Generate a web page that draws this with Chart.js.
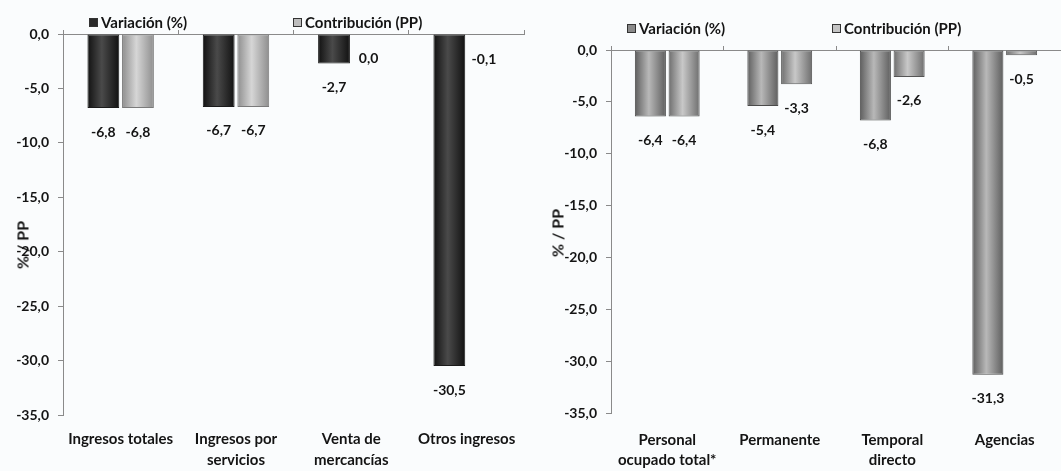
<!DOCTYPE html>
<html>
<head>
<meta charset="utf-8">
<script src="https://cdn.jsdelivr.net/npm/chart.js@4/dist/chart.umd.min.js"></script>
<style>
  html, body { margin: 0; padding: 0; background: #fafcfd; }
  #wrap { position: relative; width: 1061px; height: 471px; overflow: hidden; font-family: Lato, "Open Sans", sans-serif; }
  .pane { position: absolute; top: 0; height: 471px; }
  #paneL { left: 0; width: 530px; }
  #paneR { left: 530px; width: 531px; }
  .leg { position: absolute; font-weight: 700; font-size: 15px; color: #141414; white-space: nowrap; line-height: 16px; }
  .mk { display: inline-block; width: 9px; height: 9px; margin-right: 3px; vertical-align: 1px; border: 1px solid #333; box-sizing: border-box; }
  .ytitle { position: absolute; font-weight: 700; font-size: 16px; color: #141414; white-space: nowrap; transform: translate(-50%, -50%) rotate(-90deg); }
</style>
</head>
<body>
<div id="wrap">
  <div class="pane" id="paneL"><canvas id="cL" width="530" height="471"></canvas></div>
  <div class="pane" id="paneR"><canvas id="cR" width="531" height="471"></canvas></div>
  <div class="leg" style="left:89px; top:14px;"><span class="mk" style="background:#2a2a2a;"></span>Variación (%)</div>
  <div class="leg" style="left:293px; top:14px;"><span class="mk" style="background:#bdbdbd;"></span>Contribución (PP)</div>
  <div class="leg" style="left:627px; top:20px;"><span class="mk" style="background:#8a8a8a;"></span>Variación (%)</div>
  <div class="leg" style="left:832px; top:20px;"><span class="mk" style="background:#c4c4c4;"></span>Contribución (PP)</div>
  <div class="ytitle" style="left:22px; top:245px;">% / PP</div>
  <div class="ytitle" style="left:557px; top:233px;">% / PP</div>
</div>
<script>
// ---- data ----
const categoriesIngresos = [["Ingresos totales"], ["Ingresos por", "servicios"], ["Venta de", "mercancías"], ["Otros ingresos"]];
const variacionIngresos = [-6.8, -6.7, -2.7, -30.5];
const contribucionIngresos = [-6.8, -6.7, 0.0, -0.1];

const categoriesPersonal = [["Personal", "ocupado total*"], ["Permanente"], ["Temporal", "directo"], ["Agencias"]];
const variacionPersonal = [-6.4, -5.4, -6.8, -31.3];
const contribucionPersonal = [-6.4, -3.3, -2.6, -0.5];

const yTicksMin = -35;
const yTicksMax = 0;
const yTickStep = 5;

const seriesNames = ["Variación (%)", "Contribución (PP)"];

// ---- helpers ----
const fmt = v => v.toFixed(1).replace('.', ',');
const CAT_PCT = 0.6, BAR_PCT = 0.92;
const FAM = 'Lato, "Open Sans", sans-serif';

function cylinder(edge, mid) {
  return function (c) {
    const chart = c.chart;
    const xs = chart.scales.x;
    if (!xs || !chart.chartArea || c.dataIndex === undefined) return mid;
    const center = xs.getPixelForValue(c.dataIndex);
    const cat = (xs.right - xs.left) / xs.ticks.length;
    const slot = cat * CAT_PCT / 2;
    const bx = center + (c.datasetIndex - 0.5) * slot;
    const w = slot * BAR_PCT;
    const g = chart.ctx.createLinearGradient(bx - w / 2, 0, bx + w / 2, 0);
    g.addColorStop(0, edge);
    g.addColorStop(0.45, mid);
    g.addColorStop(1, edge);
    return g;
  };
}

const valueLabels = {
  id: 'valueLabels',
  afterDatasetsDraw(chart, args, opts) {
    const ctx = chart.ctx;
    ctx.save();
    ctx.font = '700 14px ' + FAM;
    ctx.fillStyle = '#141414';
    ctx.textAlign = 'center';
    ctx.textBaseline = 'middle';
    chart.data.datasets.forEach((ds, di) => {
      const meta = chart.getDatasetMeta(di);
      meta.data.forEach((el, i) => {
        ctx.fillText(fmt(ds.data[i]), el.x, el.y + opts.offset);
      });
    });
    ctx.restore();
  }
};

function makeChart(id, cats, v1, v2, colors, geo) {
  const tickFont = { family: FAM, weight: 700, size: 14 };
  const catFont = { family: FAM, weight: 700, size: 15, lineHeight: geo.lineH };
  return new Chart(document.getElementById(id), {
    type: 'bar',
    data: {
      labels: cats,
      datasets: [
        { label: seriesNames[0], data: v1, backgroundColor: cylinder(colors[0][0], colors[0][1]), borderColor: colors[0][2], borderWidth: 1, borderSkipped: false, categoryPercentage: CAT_PCT, barPercentage: BAR_PCT },
        { label: seriesNames[1], data: v2, backgroundColor: cylinder(colors[1][0], colors[1][1]), borderColor: colors[1][2], borderWidth: 1, borderSkipped: false, categoryPercentage: CAT_PCT, barPercentage: BAR_PCT }
      ]
    },
    options: {
      responsive: false,
      animation: false,
      events: [],
      layout: { padding: { top: geo.top, left: 0, right: geo.right, bottom: 0 } },
      plugins: { legend: { display: false }, tooltip: { enabled: false }, valueLabels: { offset: 24 } },
      scales: {
        x: {
          type: 'category',
          position: 'bottom',
          grid: { display: false, drawTicks: false },
          border: { display: false },
          ticks: { font: catFont, color: '#141414', maxRotation: 0, autoSkip: false, padding: geo.xPad },
          afterFit: s => { s.height = geo.h - geo.bottom; }
        },
        x2: {
          type: 'category',
          position: 'top',
          labels: cats,
          offset: true,
          grid: { display: true, drawOnChartArea: false, drawTicks: true, tickLength: 4, color: '#8a8a8a', offset: true },
          border: { display: true, color: '#8a8a8a', width: 1 },
          ticks: { display: false },
          afterFit: s => { s.height = 0; }
        },
        y: {
          min: yTicksMin,
          max: yTicksMax,
          position: 'left',
          ticks: { stepSize: yTickStep, callback: v => fmt(v), font: tickFont, color: '#141414', padding: 9 },
          grid: { display: true, drawOnChartArea: false, drawTicks: true, tickLength: 5, color: '#8a8a8a' },
          border: { display: true, color: '#8a8a8a', width: 1 },
          afterFit: s => { s.width = geo.left; }
        }
      }
    },
    plugins: [valueLabels]
  });
}

makeChart('cL', categoriesIngresos, variacionIngresos, contribucionIngresos,
  [['#111111', '#4a4a4a', '#1a1a1a'], ['#8e8e8e', '#d6d6d6', '#7a7a7a']],
  { top: 34, right: 2, left: 63, bottom: 415, h: 471, xPad: 14, lineH: 1.4 });

makeChart('cR', categoriesPersonal, variacionPersonal, contribucionPersonal,
  [['#5e5e5e', '#b8b8b8', '#4a4a4a'], ['#6e6e6e', '#c8c8c8', '#555555']],
  { top: 50, right: 0, left: 81, bottom: 413, h: 471, xPad: 17, lineH: 1.35 });
</script>
</body>
</html>
